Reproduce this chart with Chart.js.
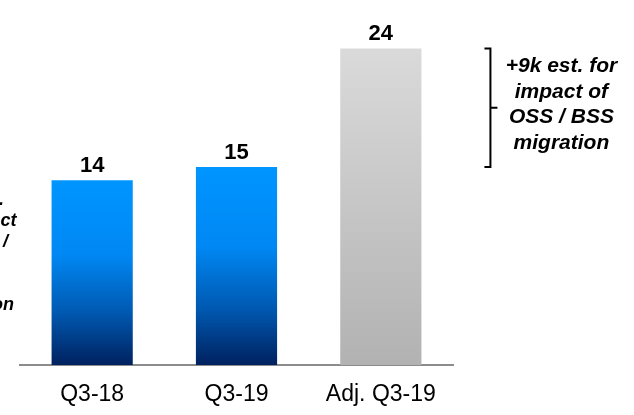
<!DOCTYPE html>
<html>
<head>
<meta charset="utf-8">
<script src="https://cdn.jsdelivr.net/npm/chart.js@4.4.1/dist/chart.umd.min.js"></script>
<style>
  html, body { margin: 0; padding: 0; background: #fff; }
  #wrap { width: 634px; height: 415px; position: relative; }
</style>
</head>
<body>
<div id="wrap"><canvas id="chart"></canvas></div>
<script>
const categories = ['Q3-18', 'Q3-19', 'Adj. Q3-19'];
const values = [14, 15, 24];
const bracketFrom = 15;
const bracketTo = 24;
const rightNote = ['+9k est. for', 'impact of', 'OSS / BSS', 'migration'];
const leftNote = ['-1k est.', 'for impact', 'of OSS /', 'BSS', 'data', 'migration'];

const FONT = "'Liberation Sans', Arial, sans-serif";

function barFill(ctx) {
    const chart = ctx.chart;
    const area = chart.chartArea;
    if (!area) return '#0095ff';
    const top = chart.scales.y.getPixelForValue(values[ctx.dataIndex]);
    const g = chart.ctx.createLinearGradient(0, top, 0, area.bottom);
    if (ctx.dataIndex === 2) {
        g.addColorStop(0, '#dadada');
        g.addColorStop(1, '#b2b2b2');
    } else {
        g.addColorStop(0, '#0095ff');
        g.addColorStop(0.4, '#0088f4');
        g.addColorStop(0.72, '#0058b0');
        g.addColorStop(1, '#00215f');
    }
    return g;
}

// value labels, bracket and side notes
const annotations = {
    id: 'annotations',
    afterDatasetsDraw(chart) {
        const ctx = chart.ctx;
        const meta = chart.getDatasetMeta(0);
        const y = chart.scales.y;

        ctx.save();
        ctx.fillStyle = '#000';
        ctx.textAlign = 'center';
        ctx.textBaseline = 'alphabetic';
        ctx.font = 'bold 22px ' + FONT;
        meta.data.forEach((bar, i) => {
            ctx.fillText(String(values[i]), bar.x, bar.y - 8);
        });

        // bracket next to the adjusted bar
        const last = meta.data[2];
        const bx = last.x + last.width / 2 + 69;
        const yTop = y.getPixelForValue(bracketTo);
        const yBot = y.getPixelForValue(bracketFrom);
        const yMid = (yTop + yBot) / 2;
        ctx.strokeStyle = '#000';
        ctx.lineWidth = 2;
        ctx.beginPath();
        ctx.moveTo(bx - 6, yTop);
        ctx.lineTo(bx, yTop);
        ctx.lineTo(bx, yBot);
        ctx.lineTo(bx - 6, yBot);
        ctx.moveTo(bx, yMid);
        ctx.lineTo(bx + 7, yMid);
        ctx.stroke();

        ctx.font = 'italic bold 21px ' + FONT;
        rightNote.forEach((line, i) => {
            ctx.fillText(line, bx + 71, yTop + 24 + i * 25.5);
        });

        // note partly outside the left edge
        ctx.font = 'italic bold 18px ' + FONT;
        leftNote.forEach((line, i) => {
            ctx.fillText(line, -27, 205 + i * 21);
        });
        ctx.restore();
    }
};

new Chart(document.getElementById('chart'), {
    type: 'bar',
    data: {
        labels: categories,
        datasets: [{
            data: values,
            backgroundColor: barFill,
            borderWidth: 0,
            categoryPercentage: 1,
            barPercentage: 0.5625
        }]
    },
    options: {
        responsive: true,
        maintainAspectRatio: false,
        animation: false,
        layout: { padding: { left: 20, right: 181, top: 22, bottom: 0 } },
        plugins: {
            legend: { display: false },
            tooltip: { enabled: false }
        },
        scales: {
            x: {
                grid: { display: false, drawTicks: false },
                border: { display: true, color: '#8c8c8c', width: 2 },
                ticks: {
                    color: '#000',
                    padding: 16,
                    font: { family: FONT, size: 23 }
                },
                afterFit(scale) { scale.height = 50; }
            },
            y: {
                display: false,
                min: 0,
                max: 26
            }
        }
    },
    plugins: [annotations]
});
</script>
</body>
</html>
